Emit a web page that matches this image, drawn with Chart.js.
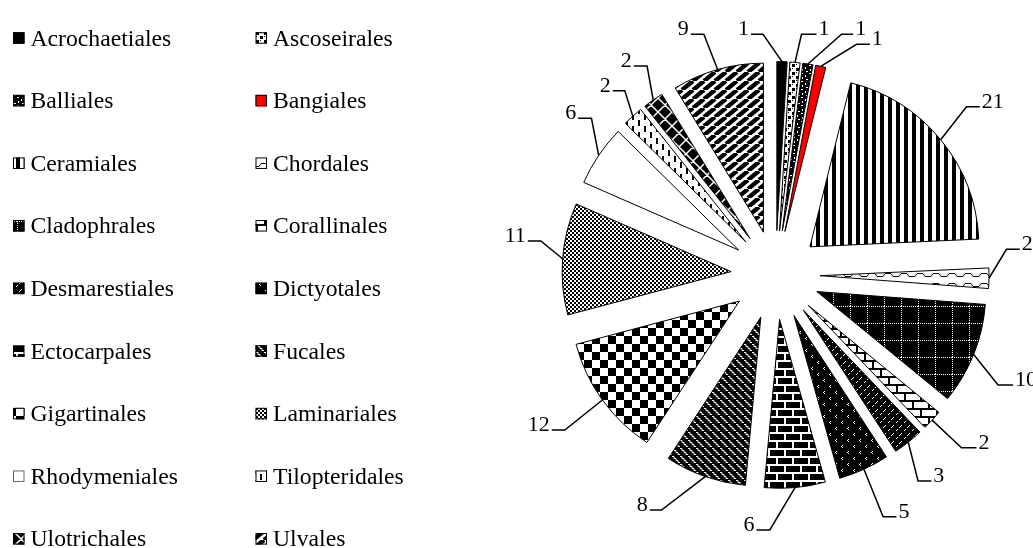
<!DOCTYPE html>
<html>
<head>
<meta charset="utf-8">
<script src="https://cdn.jsdelivr.net/npm/chart.js@4.4.0/dist/chart.umd.min.js"></script>
<style>
  html, body { margin: 0; padding: 0; background: #fff; }
  canvas { display: block; }
</style>
</head>
<body>
<canvas id="c" width="1033" height="548"></canvas>
<script>
// Orders of algae and the number of species recorded in each
const orders = [
  'Acrochaetiales', 'Ascoseirales', 'Balliales', 'Bangiales', 'Ceramiales',
  'Chordales', 'Cladophrales', 'Corallinales', 'Desmarestiales', 'Dictyotales',
  'Ectocarpales', 'Fucales', 'Gigartinales', 'Laminariales', 'Rhodymeniales',
  'Tilopteridales', 'Ulotrichales', 'Ulvales'
];
const counts = [1, 1, 1, 1, 21, 2, 10, 2, 3, 5, 6, 8, 12, 11, 6, 2, 2, 9];

// Leader line shape for each value label: elbow offset from the arc's outer
// midpoint (dx, dy), side of the horizontal tail (+1 right, -1 left), tail length
const leaderShape = [
  [-19, -27.3, -1, 12], [6.5, -28.1, 1, 15], [33.6, -29.7, 1, 11.6], [35.8, -22, 1, 13.3],
  [25.8, -33, 1, 13.3], [17.5, -28.9, 1, 13.3], [24.4, 30.6, 1, 15], [29.4, 27.6, 1, 15],
  [9.8, 38.8, 1, 13.3], [19.2, 47.4, 1, 13.3], [-25.2, 42.4, -1, 13.3], [-43.7, 33.4, -1, 11.7],
  [-37.6, 30, -1, 13], [-21.8, -17.7, -1, 13], [-7.2, -37, -1, 13.3], [-8, -25.5, -1, 12],
  [-6.1, -34, -1, 13.3], [-13.8, -35.2, -1, 13]
];

const EXPLODE = 44.5;   // distance each slice is pulled out from the centre
const RADIUS = 169;

const canvas = document.getElementById('c');
const mainCtx = canvas.getContext('2d');

// Build a repeating fill pattern from a small tile
function tile(w, h, bg, paint) {
  const c = document.createElement('canvas');
  c.width = w; c.height = h;
  const g = c.getContext('2d');
  g.fillStyle = bg;
  g.fillRect(0, 0, w, h);
  paint(g, w, h);
  return mainCtx.createPattern(c, 'repeat');
}
function dots(g, colour, list) {
  g.fillStyle = colour;
  list.forEach(([x, y, w, h]) => g.fillRect(x, y, w || 1, h || 1));
}
function brick(g, colour) {
  g.fillStyle = colour;
  g.fillRect(0, 0, 16, 2);
  g.fillRect(0, 8, 16, 2);
  g.fillRect(0, 0, 2, 8);
  g.fillRect(8, 8, 2, 8);
}

const fills = [
  '#000000',
  tile(8, 8, '#fff', g => dots(g, '#000', [[0, 0, 3, 3], [4, 4, 3, 3], [4, 0, 1, 1], [0, 4, 1, 1]])),
  tile(8, 8, '#000', g => dots(g, '#fff', [[1, 1, 2, 1], [5, 3, 1, 2], [2, 5, 1, 2], [6, 7, 2, 1]])),
  '#ff0000',
  tile(8, 1, '#fff', g => dots(g, '#000', [[0, 0, 4, 1]])),
  tile(16, 10, '#fff', g => {
    g.strokeStyle = '#000'; g.lineWidth = 1;
    g.beginPath();
    g.moveTo(0, 6.5); g.lineTo(3, 6.5); g.lineTo(5, 3.5); g.lineTo(11, 3.5); g.lineTo(13, 6.5); g.lineTo(16, 6.5);
    g.stroke();
  }),
  tile(17, 17, '#000', g => {
    const pts = [];
    for (let i = 0; i < 17; i += 2) { pts.push([i, 0]); pts.push([0, i]); }
    dots(g, '#fff', pts);
  }),
  tile(16, 16, '#fff', g => brick(g, '#000')),
  tile(8, 8, '#000', g => dots(g, '#fff', [[5, 1], [4, 2], [3, 3], [1, 5], [0, 6]])),
  tile(12, 12, '#000', g => dots(g, '#fff', [[2, 1], [1, 2], [2, 3], [8, 7], [7, 8], [8, 9]])),
  tile(16, 16, '#000', g => brick(g, '#fff')),
  tile(8, 8, '#000', g => {
    g.strokeStyle = '#fff'; g.lineWidth = 1;
    g.beginPath();
    g.moveTo(0, 0.5); g.lineTo(2, 0.5); g.lineTo(2, 2.5); g.lineTo(4, 2.5); g.lineTo(4, 4.5); g.lineTo(6, 4.5); g.lineTo(6, 6.5); g.lineTo(8, 6.5);
    g.stroke();
  }),
  tile(16, 16, '#fff', g => dots(g, '#000', [[0, 0, 8, 8], [8, 8, 8, 8]])),
  tile(4, 4, '#fff', g => dots(g, '#000', [[0, 0, 2, 2], [2, 2, 2, 2]])),
  '#ffffff',
  tile(12, 12, '#fff', g => dots(g, '#000', [[2, 0, 2, 6], [8, 6, 2, 6]])),
  tile(14, 14, '#000', g => {
    g.strokeStyle = '#fff'; g.lineWidth = 1.5;
    g.beginPath();
    [-14, 0, 14].forEach(d => {
      g.moveTo(d, 0); g.lineTo(d + 14, 14);
      g.moveTo(d + 14, 0); g.lineTo(d, 14);
    });
    g.stroke();
  }),
  tile(11, 9, '#fff', g => {
    g.strokeStyle = '#000'; g.lineWidth = 4.4;
    g.beginPath();
    [-11, 0, 11].forEach(d => { g.moveTo(d, 9); g.lineTo(d + 11, 0); });
    g.stroke();
  })
];

// Pull every slice out along its bisector by the same distance
const explodePlugin = {
  id: 'explode',
  afterDatasetsUpdate(chart) {
    chart.getDatasetMeta(0).data.forEach(arc => {
      const mid = (arc.startAngle + arc.endAngle) / 2;
      arc.x += Math.cos(mid) * EXPLODE;
      arc.y += Math.sin(mid) * EXPLODE;
    });
  }
};

// Value labels with elbow leader lines
const labelPlugin = {
  id: 'leaderLabels',
  afterDatasetsDraw(chart) {
    const ctx = chart.ctx;
    const meta = chart.getDatasetMeta(0);
    ctx.save();
    ctx.strokeStyle = '#000';
    ctx.fillStyle = '#000';
    ctx.lineWidth = 1.5;
    ctx.font = '22px "Liberation Serif"';
    ctx.textBaseline = 'alphabetic';
    meta.data.forEach((arc, i) => {
      const mid = (arc.startAngle + arc.endAngle) / 2;
      const ax = arc.x + Math.cos(mid) * arc.outerRadius;
      const ay = arc.y + Math.sin(mid) * arc.outerRadius;
      const [dx, dy, side, len] = leaderShape[i];
      const ex = ax + dx, ey = ay + dy, hx = ex + side * len;
      ctx.beginPath();
      ctx.moveTo(ax, ay);
      ctx.lineTo(ex, ey);
      ctx.lineTo(hx, ey);
      ctx.stroke();
      ctx.textAlign = side > 0 ? 'left' : 'right';
      ctx.fillText(String(counts[i]), hx + side * 2, ey + 1);
    });
    ctx.restore();
  }
};

// Two-column legend on the left
const legendPlugin = {
  id: 'sideLegend',
  afterDraw(chart) {
    const ctx = chart.ctx;
    const colX = [13, 255.5];
    const top = 38, pitch = 62.6, box = 11.5;
    ctx.save();
    ctx.font = '23.7px "Liberation Serif"';
    ctx.textBaseline = 'alphabetic';
    ctx.textAlign = 'left';
    orders.forEach((name, i) => {
      const x = colX[i % 2];
      const y = top + Math.floor(i / 2) * pitch;
      ctx.fillStyle = fills[i];
      ctx.fillRect(x, y - box / 2, box, box);
      ctx.strokeStyle = i === 14 ? '#666' : '#000';
      ctx.lineWidth = 1;
      ctx.strokeRect(x + 0.5, y - box / 2 + 0.5, box - 1, box - 1);
      ctx.fillStyle = '#000';
      ctx.fillText(name, x + 17.5, y + 7.6);
    });
    ctx.restore();
  }
};

new Chart(canvas, {
  type: 'pie',
  data: {
    labels: orders,
    datasets: [{
      data: counts,
      backgroundColor: fills,
      borderColor: '#000',
      borderWidth: 1,
      offset: 0,
      hoverOffset: 0
    }]
  },
  options: {
    responsive: false,
    animation: false,
    events: [],
    radius: RADIUS,
    layout: { padding: { left: 518, top: 2, right: 0, bottom: 0 } },
    plugins: {
      legend: { display: false },
      tooltip: { enabled: false }
    }
  },
  plugins: [explodePlugin, labelPlugin, legendPlugin]
});
</script>
</body>
</html>
